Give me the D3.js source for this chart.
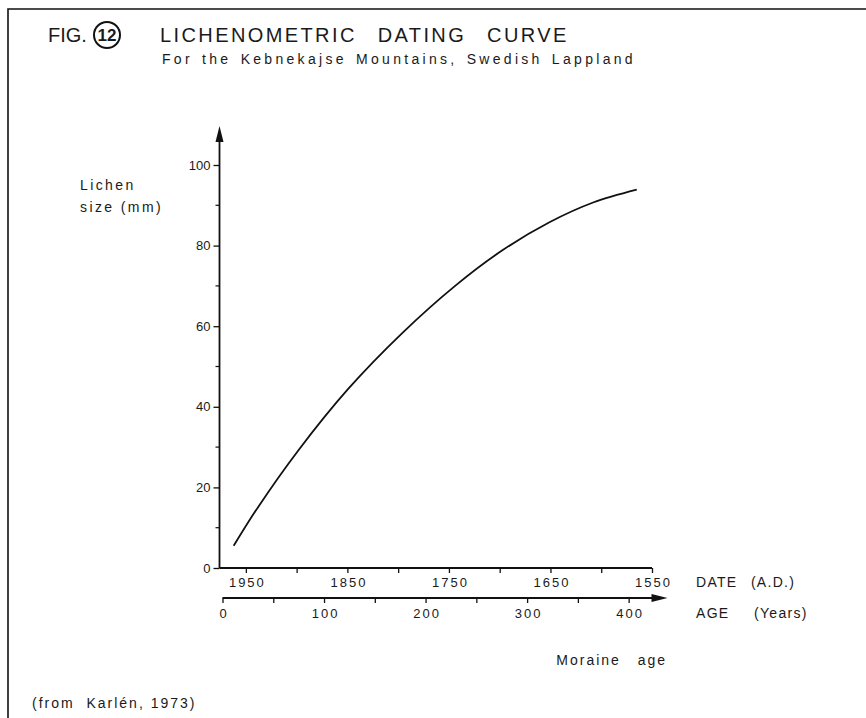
<!DOCTYPE html>
<html>
<head>
<meta charset="utf-8">
<script src="https://cdn.jsdelivr.net/npm/d3@7"></script>
<style>
  body { margin: 0; background: #fff; }
  text { font-family: "Liberation Sans", Arial, Helvetica, sans-serif; fill: #1a1a1a; }
</style>
</head>
<body>
<div id="chart-area"></div>
<script>
// data (Karlen 1973)
var moraineAge = [11, 35, 75, 124, 177, 230, 276, 322, 365, 408];
var lichenSize = [5.5, 15.1, 29.3, 44.5, 58.3, 70.2, 78.9, 85.8, 90.7, 93.9];

var sizeTicks = [0, 20, 40, 60, 80, 100];
var sizeMinorTicks = [10, 30, 50, 70, 90];
var dateTicks = [1950, 1900, 1850, 1800, 1750, 1700, 1650, 1600, 1550];
var dateLabels = [1950, 1850, 1750, 1650, 1550];
var ageTicks = [0, 50, 100, 150, 200, 250, 300, 350, 400];
var ageLabels = [0, 100, 200, 300, 400];
var yearZero = 1973;

var width = 866, height = 718;

var svg = d3.select("#chart-area")
    .append("svg")
        .attr("width", width)
        .attr("height", height);

// frame (only left and top edges fall inside the picture)
svg.append("path")
    .attr("d", "M8,718 L8,9 L866,9")
    .attr("fill", "none")
    .attr("stroke", "#111")
    .attr("stroke-width", 1.6);

// Scales
var x = d3.scaleLinear()
    .domain([0, yearZero - 1550])
    .range([222.5, 652]);
var xDate = d3.scaleLinear()
    .domain([yearZero, 1550])
    .range([222.5, 652]);
var y = d3.scaleLinear()
    .domain([0, 100])
    .range([568, 165]);

var axisX = 219.5;

// Title
svg.append("text")
    .attr("x", 48).attr("y", 42)
    .attr("font-size", "20px")
    .text("FIG.");
svg.append("circle")
    .attr("cx", 107).attr("cy", 35).attr("r", 13)
    .attr("fill", "none")
    .attr("stroke", "#111")
    .attr("stroke-width", 2);
svg.append("text")
    .attr("x", 107).attr("y", 41)
    .attr("font-size", "17px")
    .attr("font-weight", "bold")
    .attr("text-anchor", "middle")
    .text("12");
svg.append("text")
    .attr("x", 160).attr("y", 42)
    .attr("font-size", "20px")
    .attr("letter-spacing", "2.4px")
    .attr("word-spacing", "2.5px")
    .attr("xml:space", "preserve")
    .text("LICHENOMETRIC  DATING  CURVE");
svg.append("text")
    .attr("x", 162).attr("y", 64)
    .attr("font-size", "14px")
    .attr("letter-spacing", "3.3px")
    .attr("word-spacing", "2px")
    .text("For the Kebnekajse Mountains, Swedish Lappland");

// Y axis
var yAxisCall = d3.axisLeft(y)
    .tickValues(sizeTicks)
    .tickSize(6)
    .tickPadding(3)
    .tickFormat(d3.format("d"));
var yAxis = svg.append("g")
    .attr("class", "y axis")
    .attr("transform", "translate(" + axisX + ",0)")
    .call(yAxisCall);
yAxis.select(".domain").remove();
yAxis.selectAll("text").attr("font-size", "13px").attr("fill", "#1a1a1a");
yAxis.selectAll("line").attr("stroke", "#111").attr("stroke-width", 1.3);

svg.append("g")
    .attr("transform", "translate(" + axisX + ",0)")
    .selectAll("line")
    .data(sizeMinorTicks)
    .enter().append("line")
        .attr("x1", -4).attr("x2", 0)
        .attr("y1", function(d) { return y(d); })
        .attr("y2", function(d) { return y(d); })
        .attr("stroke", "#111")
        .attr("stroke-width", 1.2);

var yTop = y(100) - 39;
svg.append("line")
    .attr("x1", axisX).attr("x2", axisX)
    .attr("y1", y(0)).attr("y2", yTop + 10)
    .attr("stroke", "#111")
    .attr("stroke-width", 1.8);
svg.append("path")
    .attr("d", "M" + axisX + "," + yTop + " L" + (axisX + 4) + "," + (yTop + 16) +
        " L" + (axisX - 4) + "," + (yTop + 16) + " Z")
    .attr("fill", "#111");

svg.append("text")
    .attr("x", 80).attr("y", 190)
    .attr("font-size", "14px")
    .attr("letter-spacing", "2.4px")
    .text("Lichen");
svg.append("text")
    .attr("x", 80).attr("y", 212)
    .attr("font-size", "14px")
    .attr("letter-spacing", "2.4px")
    .text("size (mm)");

// Date axis (A.D.)
var dateAxisCall = d3.axisBottom(xDate)
    .tickValues(dateTicks)
    .tickSize(5)
    .tickPadding(5)
    .tickFormat(function(d) { return dateLabels.indexOf(d) >= 0 ? d : ""; });
var dateAxis = svg.append("g")
    .attr("class", "x axis")
    .attr("transform", "translate(0," + y(0) + ")")
    .call(dateAxisCall);
dateAxis.select(".domain").remove();
dateAxis.selectAll("text").attr("font-size", "13px").attr("letter-spacing", "2px")
    .attr("dx", "1px").attr("fill", "#1a1a1a");
dateAxis.selectAll("line").attr("stroke", "#111").attr("stroke-width", 1.3);
svg.append("line")
    .attr("x1", axisX).attr("x2", xDate(1550))
    .attr("y1", y(0)).attr("y2", y(0))
    .attr("stroke", "#111")
    .attr("stroke-width", 1.8);

// Age axis (years)
var ageY = 598;
var ageAxisCall = d3.axisBottom(x)
    .tickValues(ageTicks)
    .tickSize(5)
    .tickPadding(6)
    .tickFormat(function(d) { return ageLabels.indexOf(d) >= 0 ? d : ""; });
var ageAxis = svg.append("g")
    .attr("class", "x axis")
    .attr("transform", "translate(0," + ageY + ")")
    .call(ageAxisCall);
ageAxis.select(".domain").remove();
ageAxis.selectAll("text").attr("font-size", "13px").attr("letter-spacing", "2px")
    .attr("dx", "1px").attr("fill", "#1a1a1a");
ageAxis.selectAll("line").attr("stroke", "#111").attr("stroke-width", 1.3);
var ageEnd = x(0) + 445;
svg.append("line")
    .attr("x1", x(0)).attr("x2", ageEnd - 10)
    .attr("y1", ageY).attr("y2", ageY)
    .attr("stroke", "#111")
    .attr("stroke-width", 1.8);
svg.append("path")
    .attr("d", "M" + ageEnd + "," + ageY + " L" + (ageEnd - 16) + "," + (ageY - 4) +
        " L" + (ageEnd - 16) + "," + (ageY + 4) + " Z")
    .attr("fill", "#111");

// Axis names
svg.append("text")
    .attr("x", 696).attr("y", 587)
    .attr("font-size", "14px")
    .attr("letter-spacing", "1.3px")
    .attr("word-spacing", "1.5px")
    .attr("xml:space", "preserve")
    .text("DATE  (A.D.)");
svg.append("text")
    .attr("x", 696).attr("y", 618)
    .attr("font-size", "14px")
    .attr("letter-spacing", "1.3px")
    .attr("word-spacing", "3px")
    .attr("xml:space", "preserve")
    .text("AGE   (Years)");
svg.append("text")
    .attr("x", 667).attr("y", 665)
    .attr("font-size", "14px")
    .attr("letter-spacing", "2px")
    .attr("word-spacing", "2.5px")
    .attr("text-anchor", "end")
    .attr("xml:space", "preserve")
    .text("Moraine  age");
svg.append("text")
    .attr("x", 32).attr("y", 708)
    .attr("font-size", "14px")
    .attr("letter-spacing", "2px")
    .attr("xml:space", "preserve")
    .text("(from  Karlén, 1973)");

// Curve
var points = moraineAge.map(function(a, i) { return [a, lichenSize[i]]; });
var line = d3.line()
    .x(function(d) { return x(d[0]); })
    .y(function(d) { return y(d[1]); })
    .curve(d3.curveCatmullRom.alpha(0.5));
svg.append("path")
    .datum(points)
    .attr("d", line)
    .attr("fill", "none")
    .attr("stroke", "#111")
    .attr("stroke-width", 1.8);
</script>
</body>
</html>
